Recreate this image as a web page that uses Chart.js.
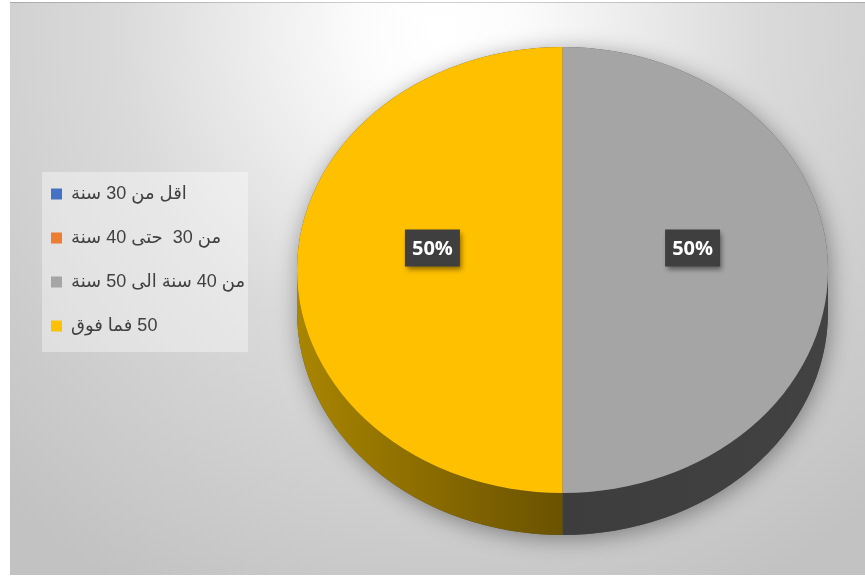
<!DOCTYPE html>
<html>
<head>
<meta charset="utf-8">
<script src="https://cdn.jsdelivr.net/npm/chart.js@4.4.1/dist/chart.umd.min.js"></script>
<style>
  html, body { margin: 0; padding: 0; background: #ffffff; overflow: hidden; }
  #wrap { position: relative; width: 865px; height: 577px; }
</style>
</head>
<body>
<div id="wrap"><canvas id="chart" width="865" height="577"></canvas></div>
<script>
// Age groups and their shares (percent)
const categories = ['اقل من 30 سنة', 'من 30  حتى 40 سنة', 'من 40 سنة الى 50 سنة', '50 فما فوق'];
const shares = [0, 0, 50, 50];

// Top-face colours and the darker wall colours (light end, dark end)
const sliceColors = ['#4472C4', '#ED7D31', '#A5A5A5', '#FFC000'];
const wallColors = [['#2f5597', '#233f70'], ['#b0571a', '#7a3c10'], ['#424242', '#3d3d3d'], ['#a98500', '#6a5200']];

// 3D look: vertical squash of the disc and thickness of its wall (relative to radius)
const TILT = 0.84;
const DEPTH = 0.158;

const LABEL_FONT = "bold 20px 'Open Sans', 'DejaVu Sans', sans-serif";

const pie3d = {
  id: 'pie3d',
  beforeDraw(chart) {
    const { ctx, width, height } = chart;
    ctx.save();
    ctx.fillStyle = '#ffffff';
    ctx.fillRect(0, 0, width, height);
    // chart frame with soft radial fill
    const g = ctx.createRadialGradient(440, 30, 0, 440, 30, 640);
    g.addColorStop(0, '#ffffff');
    g.addColorStop(0.12, '#fcfcfc');
    g.addColorStop(0.5, '#dadada');
    g.addColorStop(1, '#c2c2c2');
    ctx.fillStyle = g;
    ctx.fillRect(10, 2, width - 10, 573);
    ctx.strokeStyle = 'rgba(0,0,0,0.18)';
    ctx.lineWidth = 1;
    ctx.beginPath();
    ctx.moveTo(10, 2.5); ctx.lineTo(width, 2.5);
    ctx.stroke();
    // legend panel
    ctx.fillStyle = 'rgba(255,255,255,0.38)';
    ctx.fillRect(42, 172, 206, 180);
    ctx.restore();

    // place the legend inside its panel
    const lg = chart.legend;
    if (lg) {
      lg.left = 25; lg.top = 159; lg.right = 260; lg.bottom = 560;
      lg.width = lg.right - lg.left; lg.height = lg.bottom - lg.top;
    }
  },
  beforeDatasetsDraw(chart) {
    const { ctx } = chart;
    const arcs = chart.getDatasetMeta(0).data;
    const p0 = arcs[0].getProps(['x', 'y', 'outerRadius'], true);
    const cx = p0.x, cy = p0.y, rx = p0.outerRadius;
    const ry = rx * TILT, d = rx * DEPTH;

    ctx.save();
    // body with drop shadow
    ctx.shadowColor = 'rgba(0,0,0,0.38)';
    ctx.shadowBlur = 22;
    ctx.shadowOffsetX = 2;
    ctx.shadowOffsetY = 4;
    ctx.fillStyle = '#555555';
    ctx.beginPath();
    ctx.ellipse(cx, cy, rx, ry, 0, Math.PI, 2 * Math.PI, false);
    ctx.lineTo(cx + rx, cy + d);
    ctx.ellipse(cx, cy + d, rx, ry, 0, 0, Math.PI, false);
    ctx.closePath();
    ctx.fill();
    ctx.restore();

    // visible walls: front half of the rim (angles 0..PI)
    ctx.save();
    arcs.forEach((arc, i) => {
      const p = arc.getProps(['startAngle', 'endAngle'], true);
      if (p.endAngle - p.startAngle <= 0) return;
      for (let k = -1; k <= 1; k++) {
        const s = Math.max(p.startAngle + 2 * Math.PI * k, 0);
        const e = Math.min(p.endAngle + 2 * Math.PI * k, Math.PI);
        if (e <= s) continue;
        const x0 = cx + rx * Math.min(Math.cos(s), Math.cos(e));
        const x1 = cx + rx * Math.max(Math.cos(s), Math.cos(e));
        const gr = ctx.createLinearGradient(x0, 0, Math.max(x1, x0 + 1), 0);
        const [c0, c1] = wallColors[i];
        // the wall darkens toward the front
        if (Math.cos((s + e) / 2) < 0) { gr.addColorStop(0, c0); gr.addColorStop(1, c1); }
        else { gr.addColorStop(0, c1); gr.addColorStop(1, c0); }
        ctx.fillStyle = gr;
        ctx.beginPath();
        ctx.ellipse(cx, cy, rx, ry, 0, s, e, false);
        ctx.ellipse(cx, cy + d, rx, ry, 0, e, s, true);
        ctx.closePath();
        ctx.fill();
      }
    });
    ctx.restore();

    // squash the top face into an ellipse
    ctx.save();
    ctx.translate(cx, cy);
    ctx.scale(1, TILT);
    ctx.translate(-cx, -cy);
  },
  afterDatasetsDraw(chart) {
    const { ctx } = chart;
    ctx.restore();

    const data = chart.data.datasets[0].data;
    const total = data.reduce((a, b) => a + b, 0);
    const arcs = chart.getDatasetMeta(0).data;
    ctx.save();
    ctx.font = LABEL_FONT;
    ctx.textAlign = 'center';
    ctx.textBaseline = 'middle';
    arcs.forEach((arc, i) => {
      const v = data[i];
      if (!v) return;
      const p = arc.getProps(['x', 'y', 'startAngle', 'endAngle', 'outerRadius'], true);
      const mid = (p.startAngle + p.endAngle) / 2;
      const r = p.outerRadius * 0.49;
      const lx = p.x + Math.cos(mid) * r;
      const ly = p.y + Math.sin(mid) * r * TILT - 22;
      const text = Math.round(v / total * 100) + '%';
      const bw = 55, bh = 37;
      ctx.save();
      ctx.shadowColor = 'rgba(0,0,0,0.45)';
      ctx.shadowBlur = 5;
      ctx.shadowOffsetX = 2;
      ctx.shadowOffsetY = 3;
      ctx.fillStyle = '#3f3f3f';
      ctx.fillRect(lx - bw / 2, ly - bh / 2, bw, bh);
      ctx.restore();
      ctx.fillStyle = '#ffffff';
      ctx.fillText(text, lx, ly + 1);
    });
    ctx.restore();
  }
};

const chart = new Chart(document.getElementById('chart').getContext('2d'), {
  type: 'pie',
  data: {
    labels: categories,
    datasets: [{
      data: shares,
      backgroundColor: sliceColors,
      borderWidth: 0,
      hoverOffset: 0
    }]
  },
  options: {
    responsive: false,
    animation: false,
    events: [],
    layout: { padding: { left: 297, right: 37, top: 4.5, bottom: 41.5 } },
    plugins: {
      legend: {
        position: 'chartArea',
        fullSize: false,
        align: 'start',
        textDirection: 'rtl',
        labels: {
          boxWidth: 11,
          boxHeight: 11,
          padding: 26,
          color: '#404040',
          font: { family: "'Liberation Sans', 'DejaVu Sans', sans-serif", size: 18 }
        }
      },
      tooltip: { enabled: false }
    }
  },
  plugins: [pie3d]
});
</script>
</body>
</html>
